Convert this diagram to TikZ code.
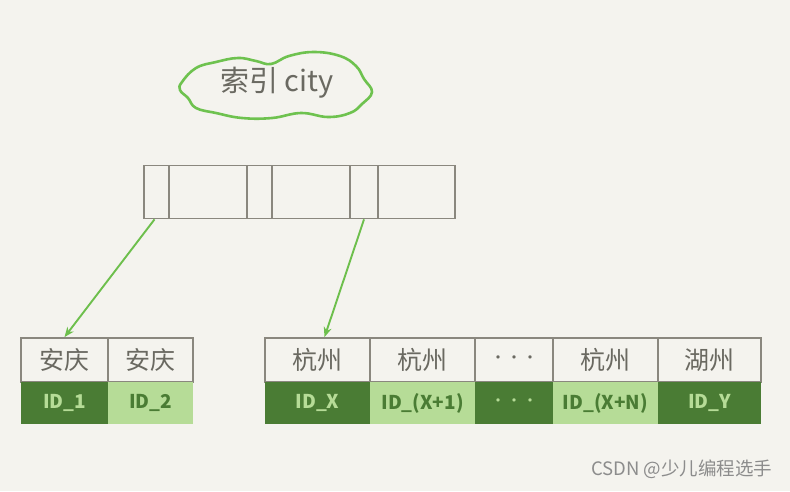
\documentclass[tikz,border=0pt]{standalone}
\usepackage{fontspec}
\newfontfamily\cjk{Noto Sans CJK SC}
\usetikzlibrary{arrows.meta}
\definecolor{bg}{HTML}{F4F3EE}
\definecolor{edge}{HTML}{8A877E}
\definecolor{ink}{HTML}{6A6961}
\definecolor{cloudgreen}{HTML}{6EC24F}
\definecolor{arrowgreen}{HTML}{6DBF4C}
\definecolor{darkg}{HTML}{4A7C34}
\definecolor{lightg}{HTML}{B6DC97}
\definecolor{mark}{HTML}{8C8C8C}
\tikzset{
  cell/.style={draw=edge, line width=1.8pt, fill=bg, inner sep=0pt, text=ink,
    font=\cjk\fontsize{25}{25}\selectfont},
  darkcell/.style={fill=darkg, draw=none, inner sep=0pt, text=lightg,
    font=\cjk\bfseries\fontsize{19}{19}\selectfont},
  lightcell/.style={fill=lightg, draw=none, inner sep=0pt, text=darkg,
    font=\cjk\bfseries\fontsize{19}{19}\selectfont},
  keyptr/.style={draw=arrowgreen, line width=1.9pt, -{Stealth[length=10pt,width=8pt]}},
}
\newcommand{\smalldots}{{\mdseries\fontsize{16}{16}\selectfont ···}}
\begin{document}
\begin{tikzpicture}[x=1pt,y=-1pt]
\useasboundingbox[fill=bg] (0,0) rectangle (790,491);
% cloud
\draw[cloudgreen, line width=2.6pt, fill=bg] plot[smooth cycle, tension=0.7] coordinates {
 (182,82) (196,68) (216,62) (238,58) (256,61) (271,64) (289,56) (314,52) (340,56)
 (356,66) (364,79) (372,92) (362,104) (350,113) (328,117) (301,113) (272,118)
 (242,118) (216,113) (196,108) (188,98) (180,90)};
\node[text=ink, font=\cjk\fontsize{29}{29}\selectfont] (title) at (277,83) {索引 city};
% top index box
\tikzset{tcell/.style={draw=edge, line width=1.8pt, fill=bg, inner sep=0pt, minimum height=53pt}}
\node[tcell, minimum width=25pt] (t1) at (156.5,192) {};
\node[tcell, minimum width=78pt] (t2) at (208,192) {};
\node[tcell, minimum width=25pt] (t3) at (259.5,192) {};
\node[tcell, minimum width=78pt] (t4) at (311,192) {};
\node[tcell, minimum width=28pt] (t5) at (364,192) {};
\node[tcell, minimum width=77pt] (t6) at (416.5,192) {};
% left leaf
\tikzset{kc/.style={cell, minimum height=44pt}, vd/.style={darkcell, minimum height=42pt}, vl/.style={lightcell, minimum height=42pt}}
\node[kc, minimum width=87pt] (l1) at (64.5,360) {安庆};
\node[kc, minimum width=85pt] (l2) at (150.5,360) {安庆};
\node[vd, minimum width=87pt] (lv1) at (64.5,403) {ID\_1};
\node[vl, minimum width=85pt] (lv2) at (150.5,403) {ID\_2};
% right leaf
\node[kc, minimum width=105pt] (r1) at (317.5,360) {杭州};
\node[kc, minimum width=105pt] (r2) at (422.5,360) {杭州};
\node[kc, minimum width=78pt] (r3) at (514,360) {\smalldots};
\node[kc, minimum width=105pt] (r4) at (605.5,360) {杭州};
\node[kc, minimum width=103pt] (r5) at (709.5,360) {湖州};
\node[vd, minimum width=105pt] (rv1) at (317.5,403) {ID\_X};
\node[vl, minimum width=105pt] (rv2) at (422.5,403) {ID\_(X+1)};
\node[vd, minimum width=78pt] (rv3) at (514,403) {\smalldots};
\node[vl, minimum width=105pt] (rv4) at (605.5,403) {ID\_(X+N)};
\node[vd, minimum width=103pt] (rv5) at (709.5,403) {ID\_Y};
% pointers
\draw[keyptr] ([xshift=-2pt]t1.south) -- (l1.north);
\draw[keyptr] (t5.south) -- ([xshift=7pt]r1.north);
% watermark
\node[text=mark, font=\cjk\fontsize{18.5}{18.5}\selectfont, anchor=east] (wm) at (776,469) {CSDN @少儿编程选手};
\end{tikzpicture}
\end{document}
